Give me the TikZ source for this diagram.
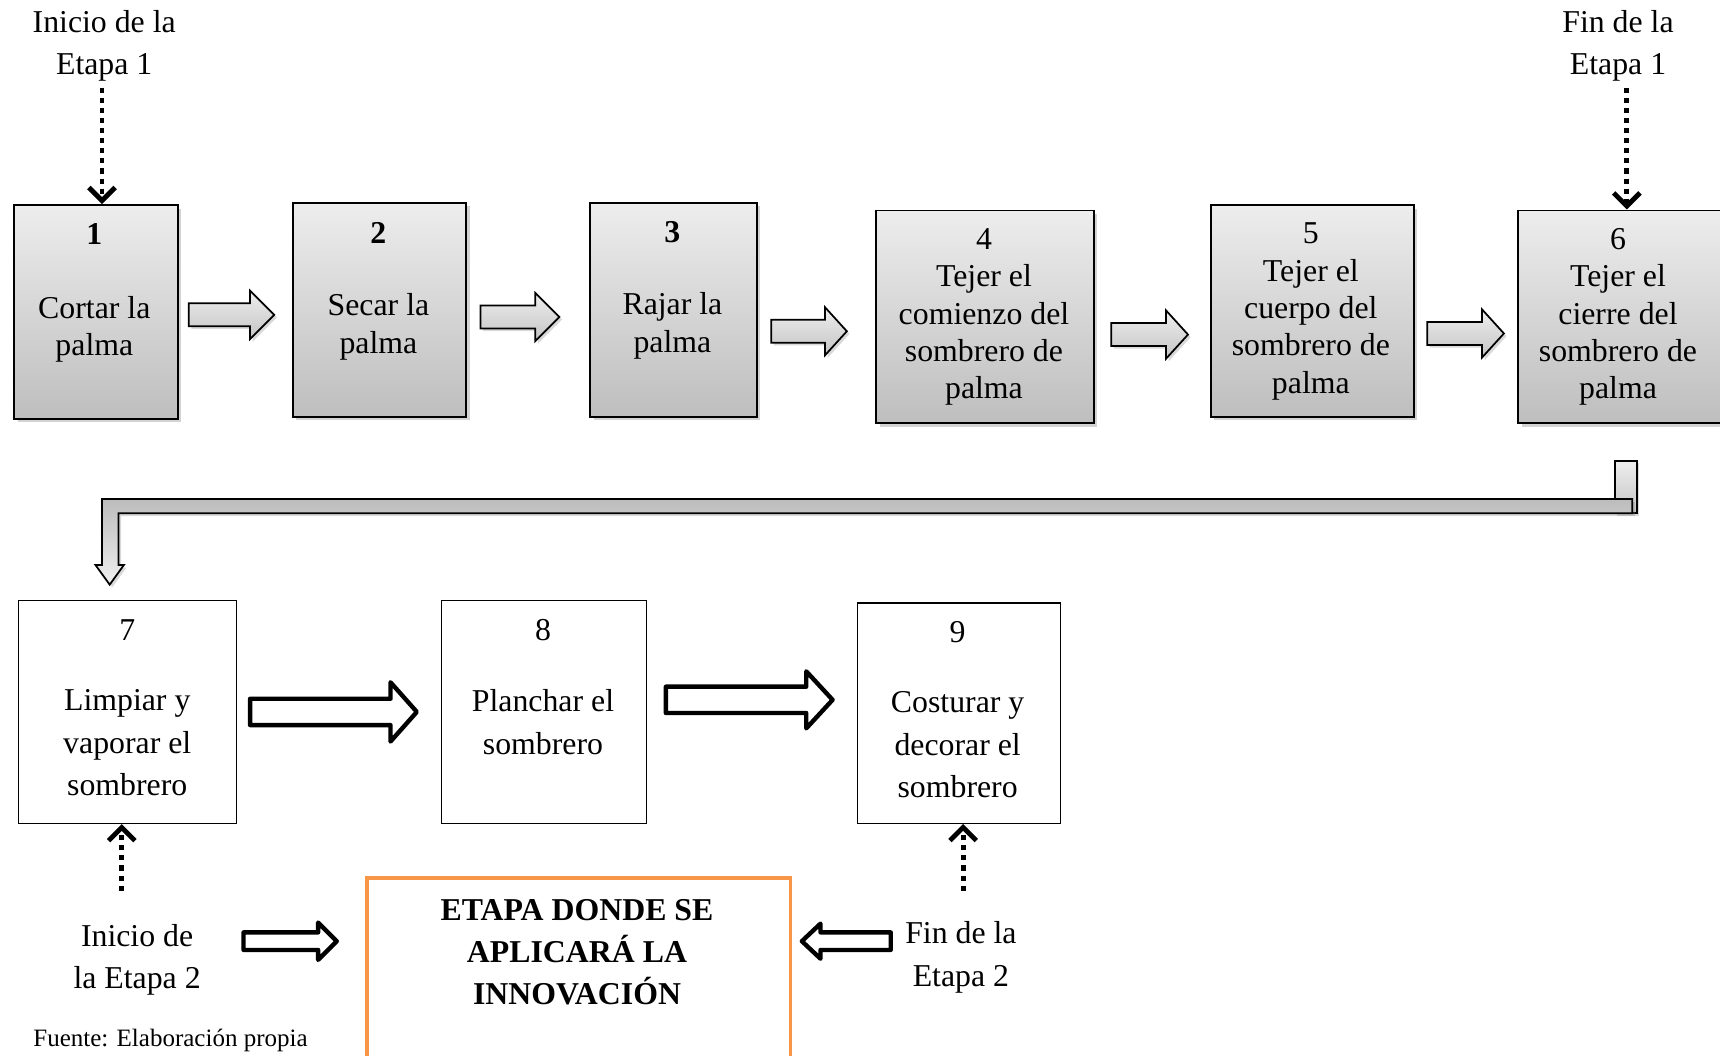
\documentclass[tikz,border=0pt]{standalone}
\usepackage{fontspec}
\setmainfont{Liberation Serif}
\usetikzlibrary{shadows,arrows.meta}
\definecolor{gtop}{RGB}{237,237,237}
\definecolor{gbot}{RGB}{190,190,190}
\definecolor{atop}{RGB}{238,238,238}
\definecolor{abot}{RGB}{196,196,196}
\definecolor{btop}{RGB}{188,188,188}
\definecolor{bbot}{RGB}{240,240,240}
\definecolor{orng}{RGB}{247,150,70}
\newcommand{\rowa}{\fontsize{14.5}{17}\selectfont}
\newcommand{\rowb}{\fontsize{14.5}{19.5}\selectfont}
\newcommand{\blkarrow}[7]{%
  \draw[#1] (#2,#5-#6) -- (#3,#5-#6) -- (#3,#5-#7) -- (#4,#5) -- (#3,#5+#7) -- (#3,#5+#6) -- (#2,#5+#6) -- cycle;}
\begin{document}
\begin{tikzpicture}[x=0.5pt,y=-0.5pt,
  gbox/.style={draw=black, line width=0.9pt, top color=gtop, bottom color=gbot, inner sep=0pt, anchor=north west,
    drop shadow={opacity=0.35,shadow xshift=1.6pt,shadow yshift=-1.6pt}},
  wbox/.style={draw=black, line width=0.6pt, fill=white, inner sep=0pt, anchor=north west},
  obox/.style={draw=orng, line width=1.6pt, fill=white, inner sep=0pt, anchor=north west},
  gray arrow/.style={draw=black, line width=0.8pt, top color=atop, bottom color=abot,
    drop shadow={opacity=0.3,shadow xshift=1.2pt,shadow yshift=-1.2pt}},
  outline arrow/.style={draw=black, line width=2pt, fill=white, line join=round},
  dotarrow/.style={line width=2.2pt, dash pattern=on 2.3pt off 2.3pt,
    -{Straight Barb[length=6pt,width=12pt,line width=2.2pt]}},
  txta/.style={font=\rowa, align=center, inner sep=1pt},
  txtb/.style={font=\rowb, align=center, inner sep=1pt}
]
\useasboundingbox (0,0) rectangle (1568,962);
\clip (0,0) rectangle (1568,962);

% ---------- top row boxes ----------
\node[gbox, minimum width=74.5pt, minimum height=97.5pt] (b1) at (12,186) {};
\node[gbox, minimum width=79pt,   minimum height=97.5pt] (b2) at (266,184) {};
\node[gbox, minimum width=76pt,   minimum height=97.5pt] (b3) at (537,184) {};
\node[gbox, minimum width=99pt,   minimum height=97pt]   (b4) at (798,191) {};
\node[gbox, minimum width=92.5pt, minimum height=96.5pt] (b5) at (1103,186) {};
\node[gbox, minimum width=96pt,   minimum height=97pt]   (b6) at (1383,191) {};

\node[txta] (n1) at (86,213) {\textbf{1}};
\node[txta] (t1) at (86,300) {Cortar la\\palma};
\node[txta] (n2) at (345,212) {\textbf{2}};
\node[txta] (t2) at (345,298) {Secar la\\palma};
\node[txta] (n3) at (613,212) {\textbf{3}};
\node[txta] (t3) at (613,297) {Rajar la\\palma};
\node[txta] (t4) at (897,289) {4\\Tejer el\\comienzo del\\sombrero de\\palma};
\node[txta] (t5) at (1195,284) {5\\Tejer el\\cuerpo del\\sombrero de\\palma};
\node[txta] (t6) at (1475,289) {6\\Tejer el\\cierre del\\sombrero de\\palma};

% ---------- top row block arrows ----------
\blkarrow{gray arrow}{172}{228}{250}{287}{10.5}{22}
\blkarrow{gray arrow}{438}{488}{510}{289}{10.5}{22}
\blkarrow{gray arrow}{703}{752}{772}{302}{10.5}{22}
\blkarrow{gray arrow}{1013}{1063}{1083}{305}{10.5}{22}
\blkarrow{gray arrow}{1301}{1351}{1371}{304}{10.5}{22}

% ---------- stage 1 labels ----------
\node[font=\fontsize{14.5}{19}\selectfont, align=center, inner sep=0pt] (in1) at (95,42) {Inicio de la\\Etapa 1};
\node[font=\fontsize{14.5}{19}\selectfont, align=center, inner sep=0pt] (fe1) at (1475,42) {Fin de la\\Etapa 1};
\coordinate (d1) at (93,80);
\coordinate (d6) at (1483,80);
\draw[dotarrow] (d1) -- (d1 |- b1.north);
\draw[dotarrow] (d6) -- (d6 |- b6.north);

% ---------- bent connector ----------
\draw[draw=black, line width=0.8pt, top color=atop, bottom color=abot,
      drop shadow={opacity=0.3,shadow xshift=1.2pt,shadow yshift=-1.2pt}]
  (1472,420) rectangle (1492,468);
\draw[draw=black, line width=0.8pt, top color=btop, bottom color=bbot,
      drop shadow={opacity=0.3,shadow xshift=1.2pt,shadow yshift=-1.2pt}]
  (1488,455) -- (93,455) -- (93,515) -- (87,515) -- (100,533) -- (113,515) -- (108,515) -- (108,468) -- (1488,468) -- cycle;

% ---------- second row boxes ----------
\node[wbox, minimum width=99.5pt, minimum height=101.5pt] (b7) at (16,547) {};
\node[wbox, minimum width=93.5pt, minimum height=101.5pt] (b8) at (402,547) {};
\node[wbox, minimum width=92.5pt, minimum height=100.5pt] (b9) at (781,549) {};

\node[txtb] (n7) at (116,574) {7};
\node[txtb] (t7) at (116,677) {Limpiar y\\vaporar el\\sombrero};
\node[txtb] (n8) at (495,574) {8};
\node[txtb] (t8) at (495,658) {Planchar el\\sombrero};
\node[txtb] (n9) at (873,576) {9};
\node[txtb] (t9) at (873,679) {Costurar y\\decorar el\\sombrero};

\blkarrow{outline arrow}{228}{356}{380}{649}{12}{27}
\blkarrow{outline arrow}{607}{735}{759}{638}{12}{26}

% ---------- stage 2 ----------
\coordinate (d7) at (111,812);
\coordinate (d9) at (878,812);
\draw[dotarrow] (d7) -- (d7 |- b7.south);
\draw[dotarrow] (d9) -- (d9 |- b9.south);

\node[txtb] (in2) at (125,875) {Inicio de\\la Etapa 2};
\node[txtb] (fe2) at (876,873) {Fin de la\\Etapa 2};

\node[obox, minimum width=193pt, minimum height=90pt] (inn) at (333,799) {};
\node[font=\fontsize{14.5}{19.3}\selectfont\bfseries, align=center, inner sep=0pt] (tinn) at (526,868) {ETAPA DONDE SE\\APLICARÁ LA\\INNOVACIÓN};

\blkarrow{outline arrow}{222}{290}{307}{858}{8}{17}
\blkarrow{outline arrow}{812}{748}{731}{858}{8}{16}

\node[font=\fontsize{11.4}{13}\selectfont, anchor=base west, inner sep=0pt] (src) at (30,954) {Fuente: Elaboración propia};
\end{tikzpicture}
\end{document}
